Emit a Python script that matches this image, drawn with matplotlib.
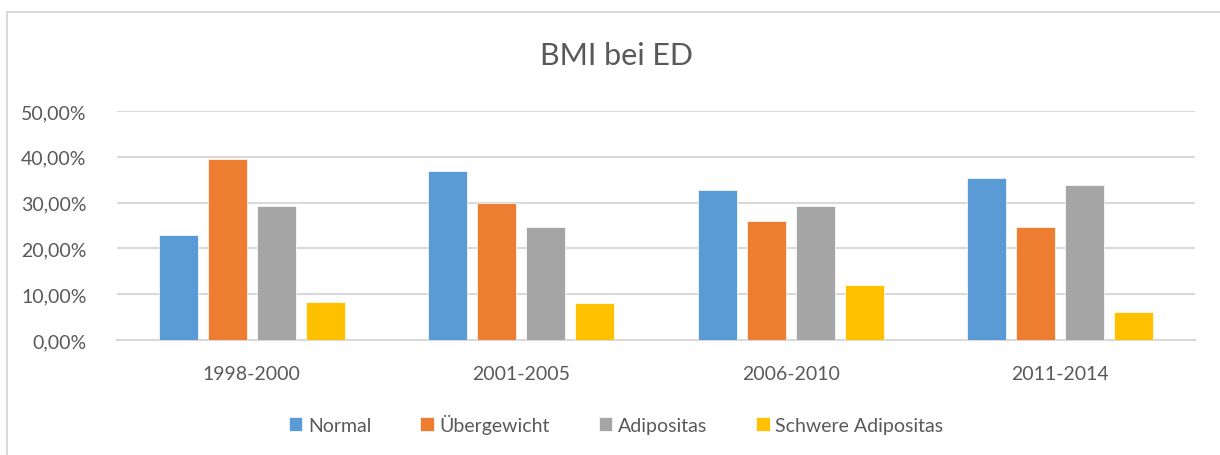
import numpy as np
import matplotlib
matplotlib.use("Agg")
import matplotlib.pyplot as plt
from matplotlib.patches import Rectangle
from matplotlib.ticker import FuncFormatter

# data
periods = ["1998-2000", "2001-2005", "2006-2010", "2011-2014"]
series_names = ["Normal", "Übergewicht", "Adipositas", "Schwere Adipositas"]
normal = [0.229, 0.370, 0.327, 0.354]
uebergewicht = [0.396, 0.300, 0.259, 0.246]
adipositas = [0.292, 0.246, 0.292, 0.338]
schwere = [0.082, 0.081, 0.119, 0.061]
colors = ["#5B9BD5", "#ED7D31", "#A5A5A5", "#FFC000"]

plt.rcParams['font.family'] = ['Lato', 'DejaVu Sans']
text_col = "#595959"
grid_col = "#D9D9D9"

fig = plt.figure(figsize=(12.2, 4.56), dpi=100)
ax = fig.add_axes([0.0959, 0.2522, 0.8836, 0.5022])

# chart frame (only left and top are visible in the crop)
fig.patches.append(Rectangle((7 / 1220, -0.1), 1.2, 1 - 13 / 456 + 0.1,
                             transform=fig.transFigure, fill=False,
                             edgecolor=grid_col, linewidth=1.5))

x = np.arange(len(periods))
bw = 0.145
step = 0.182
all_series = [normal, uebergewicht, adipositas, schwere]
for i, (vals, name, c) in enumerate(zip(all_series, series_names, colors)):
    ax.bar(x + (i - 1.5) * step, vals, width=bw, color=c, label=name,
           edgecolor="white", linewidth=0.5, zorder=3)

ax.set_xlim(-0.5, len(periods) - 0.5)
ax.set_ylim(0, 0.5)
ax.set_yticks(np.arange(0, 0.51, 0.1))
ax.yaxis.set_major_formatter(FuncFormatter(lambda v, p: f"{v * 100:.2f}%".replace(".", ",")))
ax.set_xticks(x)
ax.set_xticklabels(periods)

ax.grid(axis="y", color=grid_col, linewidth=1.5, zorder=0)
for s in ["top", "right", "left"]:
    ax.spines[s].set_visible(False)
ax.spines["bottom"].set_color(grid_col)
ax.spines["bottom"].set_linewidth(1.5)
ax.tick_params(axis="both", length=0, colors=text_col, labelsize=14)
ax.tick_params(axis="y", pad=22)
ax.tick_params(axis="x", pad=18)

fig.text(0.505, 1 - 56 / 456, "BMI bei ED", ha="center", va="center",
         fontsize=22, color=text_col)

leg = fig.legend(loc="center", bbox_to_anchor=(0.505, 1 - 425 / 456), ncol=4,
                 frameon=False, fontsize=14, handlelength=0.7, handleheight=0.7,
                 handletextpad=0.3, columnspacing=2.5)
for t in leg.get_texts():
    t.set_color(text_col)

fig.savefig("out.png", dpi=100)
